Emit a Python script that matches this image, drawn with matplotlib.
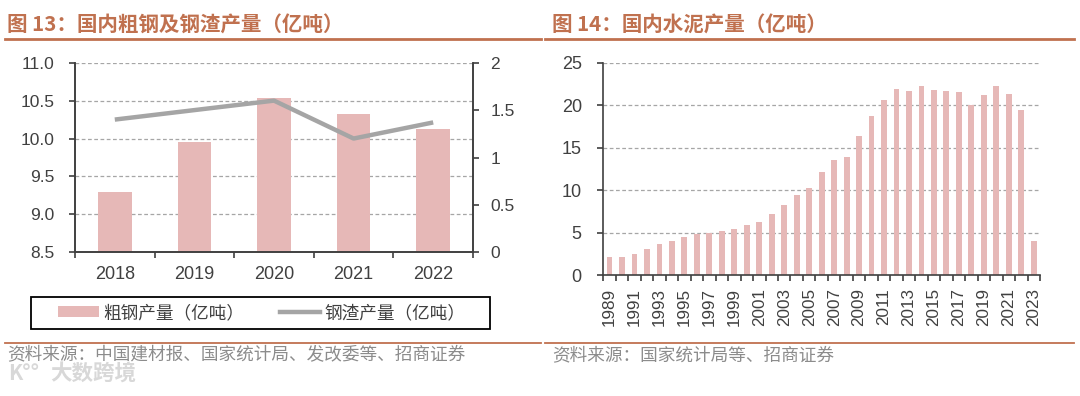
import matplotlib
matplotlib.use("Agg")
import matplotlib.pyplot as plt
from matplotlib.patches import Rectangle, Patch
from matplotlib.lines import Line2D
import numpy as np

# ---------------- data ----------------
steel_years = ['2018', '2019', '2020', '2021', '2022']
crude_steel = [9.29, 9.96, 10.53, 10.33, 10.13]      # 亿吨 (left axis)
steel_slag = [1.40, 1.50, 1.60, 1.20, 1.37]           # 亿吨 (right axis)

cement_years = [str(y) for y in range(1989, 2024)]
cement = [2.10, 2.10, 2.50, 3.04, 3.67, 4.06, 4.49, 4.80, 4.99, 5.19,
          5.46, 5.89, 6.32, 7.20, 8.23, 9.48, 10.30, 12.13, 13.57, 13.88,
          16.42, 18.68, 20.63, 21.96, 21.72, 22.31, 21.84, 21.68, 21.57, 20.05,
          21.18, 22.27, 21.29, 19.38, 4.06]

title_left = "图 13：国内粗钢及钢渣产量（亿吨）"
title_right = "图 14：国内水泥产量（亿吨）"
legend_bar = "粗钢产量（亿吨）"
legend_line = "钢渣产量（亿吨）"
source_left = "资料来源：中国建材报、国家统计局、发改委等、招商证券"
source_right = "资料来源：国家统计局等、招商证券"

# ---------------- style ----------------
W, H = 1080, 396
plt.rcParams['font.family'] = ['Liberation Sans', 'Noto Sans CJK SC', 'DejaVu Sans']
CJK = ['Noto Sans CJK SC', 'DejaVu Sans']
BAR = '#E6B8B7'
LINE = '#A5A5A5'
AX = '#404040'
TXT = '#404040'
GRID = '#A6A6A6'
ACCENT = '#C0714F'

fig = plt.figure(figsize=(W / 100, H / 100), dpi=100)
fig.patch.set_facecolor('white')


def box(x0, y0, x1, y1):
    return [x0 / W, 1 - y1 / H, (x1 - x0) / W, (y1 - y0) / H]


def fx(x):
    return x / W


def fy(y):
    return 1 - y / H


# ---------------- left chart ----------------
ax = fig.add_axes(box(75, 62.7, 473, 252.3))
x = np.arange(len(steel_years))
ax.bar(x, crude_steel, width=0.42, color=BAR, zorder=2)
ax.set_xlim(-0.5, len(steel_years) - 0.5)
ax.set_ylim(8.5, 11.0)
ax.set_yticks([8.5, 9.0, 9.5, 10.0, 10.5, 11.0])
ax.set_yticklabels([f"{v:.1f}" for v in [8.5, 9.0, 9.5, 10.0, 10.5, 11.0]])
ax.set_xticks(x)
ax.set_xticklabels(steel_years)
ax.set_xticks(np.arange(-0.5, len(steel_years)), minor=True)
ax.tick_params(axis='x', which='major', length=0, pad=10, labelsize=13, colors=TXT)
ax.tick_params(axis='x', which='minor', length=4, width=1.2, color=AX, direction='out')
ax.tick_params(axis='y', length=4.5, width=1.2, color=AX, pad=10, labelsize=12.5, labelcolor=TXT)
for v in [9.0, 9.5, 10.0, 10.5, 11.0]:
    ax.axhline(v, color=GRID, lw=0.9, ls=(0, (3, 2)), zorder=1)
for s in ['top']:
    ax.spines[s].set_visible(False)
for s in ['left', 'bottom', 'right']:
    ax.spines[s].set_color(AX)
    ax.spines[s].set_linewidth(1.2)

ax2 = ax.twinx()
ax2.plot(x, steel_slag, color=LINE, lw=3.2, solid_capstyle='butt', zorder=3)
ax2.set_ylim(0, 2)
ax2.set_yticks([0, 0.5, 1, 1.5, 2])
ax2.set_yticklabels(['0', '0.5', '1', '1.5', '2'])
ax2.tick_params(axis='y', length=4.5, width=1.2, color=AX, pad=8, labelsize=12.5, labelcolor=TXT)
ax2.spines['top'].set_visible(False)
for s in ['left', 'bottom', 'right']:
    ax2.spines[s].set_color(AX)
    ax2.spines[s].set_linewidth(1.2)

# legend box
fig.patches.append(Rectangle((fx(31), fy(329.3)), (490 - 31) / W, (329.3 - 296.7) / H,
                             transform=fig.transFigure, fill=False, edgecolor='black', lw=1.3))
handles = [Patch(facecolor=BAR, edgecolor='none'),
           Line2D([], [], color=LINE, lw=3.2)]
leg = fig.legend(handles, [legend_bar, legend_line], loc='center',
                 bbox_to_anchor=(fx(262), fy(313)), ncol=2, frameon=False,
                 prop={'family': CJK, 'size': 12.7}, handlelength=2.3, handleheight=0.6,
                 handletextpad=0.25, columnspacing=2.0, borderpad=0)
for t in leg.get_texts():
    t.set_color(TXT)

# ---------------- right chart ----------------
bx = fig.add_axes(box(603.3, 62.7, 1040, 275.3))
xc = np.arange(len(cement_years))
bx.bar(xc, cement, width=0.47, color=BAR, zorder=2)
bx.set_xlim(-0.5, len(cement_years) - 0.5)
bx.set_ylim(0, 25)
bx.set_yticks([0, 5, 10, 15, 20, 25])
bx.set_xticks(xc[::2])
bx.set_xticklabels(cement_years[::2], rotation=90)
bx.set_xticks(np.arange(-0.5, len(cement_years)), minor=True)
bx.tick_params(axis='x', which='major', length=0, pad=9, labelsize=12.3, colors=TXT)
bx.tick_params(axis='x', which='minor', length=4.5, width=1.2, color=AX, direction='out')
bx.tick_params(axis='y', length=4.5, width=1.2, color=AX, pad=11, labelsize=13, labelcolor=TXT)
for v in [5, 10, 15, 20, 25]:
    bx.axhline(v, color=GRID, lw=0.9, ls=(0, (3, 2)), zorder=1)
for s in ['top', 'right']:
    bx.spines[s].set_visible(False)
for s in ['left', 'bottom']:
    bx.spines[s].set_color(AX)
    bx.spines[s].set_linewidth(1.2)

# ---------------- titles, rules, sources ----------------
fig.text(fx(7), fy(25), title_left, family=CJK, fontsize=14.8, fontweight='bold',
         color=ACCENT, va='center', ha='left')
fig.text(fx(552), fy(25), title_right, family=CJK, fontsize=14.8, fontweight='bold',
         color=ACCENT, va='center', ha='left')
for (a, b) in [(5, 541), (545, 1074)]:
    fig.add_artist(Line2D([fx(a), fx(b)], [fy(39), fy(39)], color=ACCENT, lw=2.0))
    fig.add_artist(Line2D([fx(a), fx(b)], [fy(343), fy(343)], color=ACCENT, lw=1.3))
fig.text(fx(7), fy(355), source_left, family=CJK, fontsize=12.7, color='#8C8C8C',
         va='center', ha='left')
fig.text(fx(552), fy(355), source_right, family=CJK, fontsize=12.7, color='#8C8C8C',
         va='center', ha='left')
fig.text(fx(8), fy(374), "K°°", family=CJK, fontsize=15, fontweight='bold',
         color='#D8D8D8', va='center', ha='left')
fig.text(fx(50), fy(374), "大数跨境", family=CJK, fontsize=15.5, fontweight='bold',
         color='#D8D8D8', va='center', ha='left')

fig.savefig('out.png', dpi=100, facecolor='white')
